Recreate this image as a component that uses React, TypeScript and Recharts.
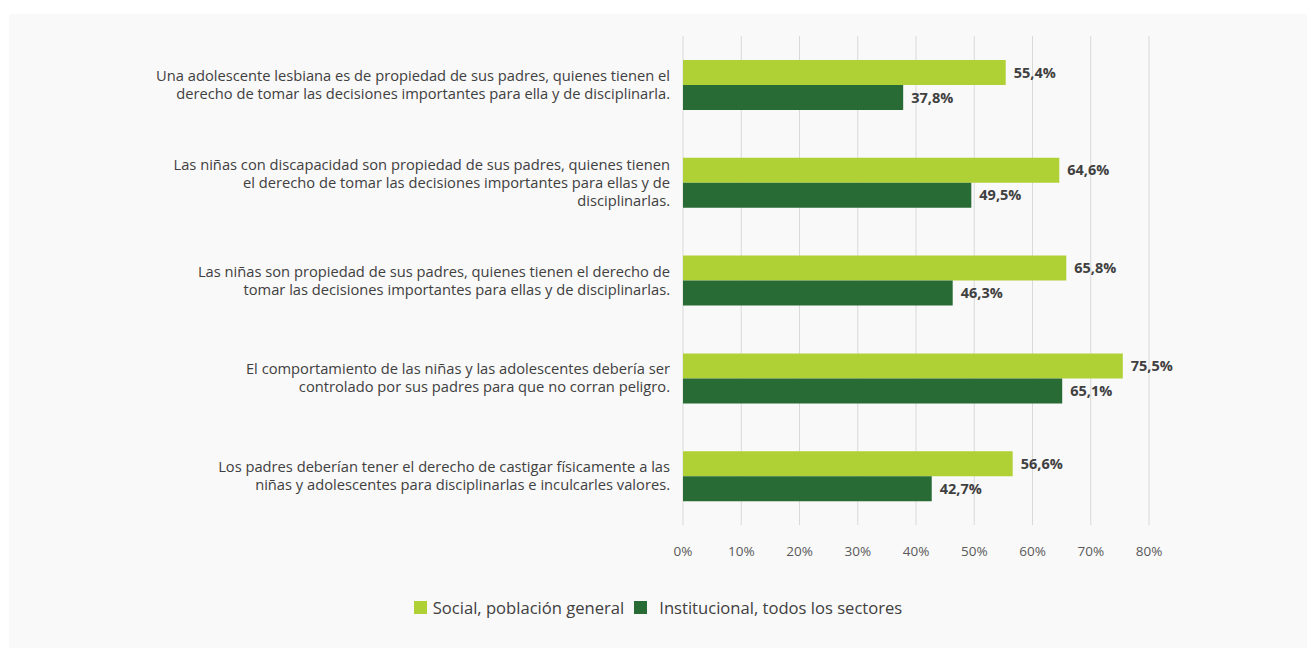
import { BarChart, Bar, XAxis, YAxis, CartesianGrid, LabelList } from "recharts";

// Afirmaciones (cada línea tal como aparece en el gráfico)
const categorias = [
  "Una adolescente lesbiana",
  "Niñas con discapacidad",
  "Niñas propiedad de sus padres",
  "Comportamiento controlado",
  "Castigo físico",
];

const etiquetas = [
  [
    "Una adolescente lesbiana es de propiedad de sus padres, quienes tienen el",
    "derecho de tomar las decisiones importantes para ella y de disciplinarla.",
  ],
  [
    "Las niñas con discapacidad son propiedad de sus padres, quienes tienen",
    "el derecho de tomar las decisiones importantes para ellas y de",
    "disciplinarlas.",
  ],
  [
    "Las niñas son propiedad de sus padres, quienes tienen el derecho de",
    "tomar las decisiones importantes para ellas y de disciplinarlas.",
  ],
  [
    "El comportamiento de las niñas y las adolescentes debería ser",
    "controlado por sus padres para que no corran peligro.",
  ],
  [
    "Los padres deberían tener el derecho de castigar físicamente a las",
    "niñas y adolescentes para disciplinarlas e inculcarles valores.",
  ],
];

const social = [55.4, 64.6, 65.8, 75.5, 56.6];
const institucional = [37.8, 49.5, 46.3, 65.1, 42.7];

const ticksX = [0, 10, 20, 30, 40, 50, 60, 70, 80];

const series = [
  { key: "social", nombre: "Social, población general", color: "#afd136" },
  { key: "institucional", nombre: "Institucional, todos los sectores", color: "#296b35" },
];

const data = categorias.map((c, i) => ({
  categoria: c,
  social: social[i],
  institucional: institucional[i],
}));

const FONT = "'Open Sans', sans-serif";

const fmt = (v: number) => `${v.toFixed(1).replace(".", ",")}%`;

function TickY(props: any) {
  const { x, y, payload } = props;
  const idx = categorias.indexOf(payload.value);
  const lines = etiquetas[idx] || [payload.value];
  const lh = 18;
  const start = y - ((lines.length - 1) * lh) / 2;
  return (
    <text x={x} y={start} textAnchor="end" fill="#404040" fontSize={14.7} fontFamily={FONT}>
      {lines.map((l, i) => (
        <tspan key={i} x={x} y={start + i * lh} dy="0.35em">
          {l}
        </tspan>
      ))}
    </text>
  );
}

function Leyenda() {
  return (
    <div
      style={{
        position: "absolute",
        top: 582,
        left: 0,
        width: 1298,
        display: "flex",
        justifyContent: "center",
        alignItems: "center",
        fontFamily: FONT,
        fontSize: 16.6,
        color: "#404040",
      }}
    >
      {series.map((s, i) => (
        <div key={s.key} style={{ display: "flex", alignItems: "center", marginLeft: i ? 10 : 0 }}>
          <span style={{ width: 13, height: 13, background: s.color, display: "inline-block", marginRight: i ? 12 : 6 }} />
          <span>{s.nombre}</span>
        </div>
      ))}
    </div>
  );
}

export default function App() {
  return (
    <div style={{ position: "relative", left: 1, top: 6, width: 1305, height: 640, background: "#f9f9f9" }}>
      <BarChart
        width={1305}
        height={640}
        data={data}
        layout="vertical"
        margin={{ top: 22, right: 165, bottom: 89, left: 0 }}
        barGap={0}
        barSize={25}
      >
        <CartesianGrid horizontal={false} stroke="#d9d9d9" />
        <XAxis
          type="number"
          domain={[0, 80]}
          ticks={ticksX}
          tickFormatter={(v) => `${v}%`}
          axisLine={false}
          tickLine={false}
          height={40}
          tickMargin={15}
          tick={{ fill: "#595959", fontSize: 13.5, fontFamily: FONT }}
        />
        <YAxis
          type="category"
          dataKey="categoria"
          width={674}
          axisLine={false}
          tickLine={false}
          tickSize={0}
          tickMargin={13}
          tick={<TickY />}
        />
        {series.map((s) => (
          <Bar key={s.key} dataKey={s.key} name={s.nombre} fill={s.color} isAnimationActive={false}>
            <LabelList
              dataKey={s.key}
              position="right"
              offset={8}
              formatter={(v: any) => fmt(Number(v))}
              style={{ fill: "#404040", fontSize: 14.5, fontWeight: 700, fontFamily: FONT }}
            />
          </Bar>
        ))}
      </BarChart>
      <Leyenda />
    </div>
  );
}
